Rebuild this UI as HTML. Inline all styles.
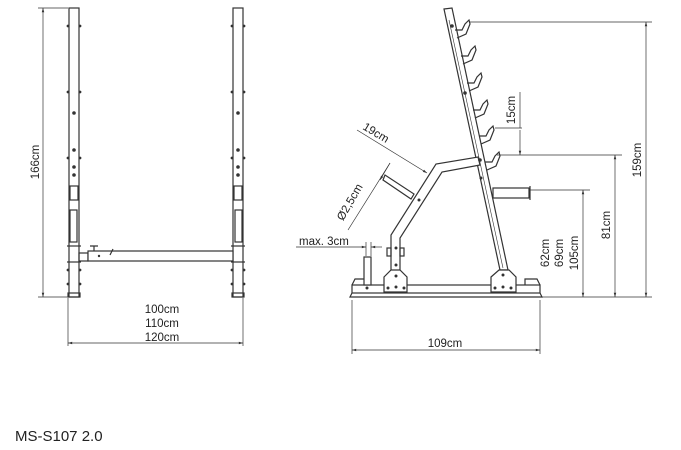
<!DOCTYPE html>
<html><head><meta charset="utf-8"><style>
html,body{margin:0;padding:0;background:#fff;}
svg{display:block;}
text{font-family:"Liberation Sans",sans-serif;fill:#222;}
</style></head><body>
<svg width="681" height="450" viewBox="0 0 681 450" xmlns="http://www.w3.org/2000/svg">
<defs>
<marker id="a" viewBox="0 0 10 10" refX="10" refY="5" markerWidth="8" markerHeight="6" orient="auto-start-reverse"><path d="M0,2 L10,5 L0,8 z" fill="#333"/></marker>
</defs>
<g stroke="#333" stroke-width="0.7" fill="none">
<line x1="43" y1="8" x2="43" y2="297" marker-start="url(#a)" marker-end="url(#a)"/>
<line x1="38" y1="8" x2="68" y2="8"/><line x1="38" y1="297" x2="68" y2="297"/>
<g stroke-width="1.2">
<rect x="69" y="8" width="10" height="289" fill="#fff"/>
<rect x="233" y="8" width="10" height="289" fill="#fff"/>
<rect x="70" y="186" width="8" height="14"/><rect x="234" y="186" width="8" height="14"/>
<rect x="70" y="210" width="7" height="32"/><rect x="235" y="210" width="7" height="32"/>
<rect x="79" y="253" width="9" height="8"/>
<rect x="88" y="251" width="145" height="10" fill="#fff"/>
<line x1="67" y1="246" x2="81" y2="246"/><line x1="231" y1="246" x2="245" y2="246"/>
<line x1="67" y1="262" x2="81" y2="262"/><line x1="231" y1="262" x2="245" y2="262"/>
<rect x="68" y="293" width="12" height="4"/><rect x="232" y="293" width="12" height="4"/>
<path d="M90,246 L98,246 M94,246 L94,251"/>
<line x1="110" y1="255" x2="113" y2="249"/>
</g>
<g fill="#333" stroke="none">
<circle cx="74" cy="113" r="1.8"/><circle cx="74" cy="150" r="1.8"/><circle cx="74" cy="167" r="1.8"/><circle cx="74" cy="175" r="1.8"/>
<circle cx="238" cy="113" r="1.8"/><circle cx="238" cy="150" r="1.8"/><circle cx="238" cy="167" r="1.8"/><circle cx="238" cy="175" r="1.8"/>
<circle cx="68" cy="26" r="1.4"/><circle cx="80" cy="26" r="1.4"/><circle cx="68" cy="92" r="1.4"/><circle cx="80" cy="92" r="1.4"/><circle cx="68" cy="158" r="1.4"/><circle cx="80" cy="158" r="1.4"/>
<circle cx="232" cy="26" r="1.4"/><circle cx="244" cy="26" r="1.4"/><circle cx="232" cy="92" r="1.4"/><circle cx="244" cy="92" r="1.4"/><circle cx="232" cy="158" r="1.4"/><circle cx="244" cy="158" r="1.4"/>
<circle cx="68" cy="270" r="1.4"/><circle cx="80" cy="270" r="1.4"/><circle cx="68" cy="284" r="1.4"/><circle cx="80" cy="284" r="1.4"/>
<circle cx="232" cy="270" r="1.4"/><circle cx="244" cy="270" r="1.4"/><circle cx="232" cy="284" r="1.4"/><circle cx="244" cy="284" r="1.4"/>
<circle cx="99" cy="256" r="1.2"/>
</g>
<line x1="68" y1="298" x2="68" y2="346"/><line x1="243" y1="298" x2="243" y2="346"/>
<line x1="68" y1="343" x2="243" y2="343" marker-start="url(#a)" marker-end="url(#a)"/>

<g stroke-width="1.2">
<path d="M444,9 L452,8 L508,270 L500,270 Z" fill="#fff"/>
<line x1="449" y1="20" x2="503" y2="268" stroke-width="0.6"/>
<path d="M455,30 L462,30 L465,24 L469,20 L470,24 L466,34 L457,38"/>
<path d="M461,56 L468,56 L471,50 L475,46 L476,50 L472,60 L463,64"/>
<path d="M467,83 L474,83 L477,77 L481,73 L482,77 L478,87 L469,91"/>
<path d="M473,110 L480,110 L483,104 L487,100 L488,104 L484,114 L475,118"/>
<path d="M479,136 L486,136 L489,130 L493,126 L494,130 L490,140 L481,144"/>
<path d="M485,162 L492,162 L495,156 L499,152 L500,156 L496,166 L487,170"/>
<path d="M391,286 L391,235 L436,164 L478,157 L480,165 L442,172 L400,238 L400,286" fill="#fff"/>
<path d="M383,180 L385,175 L414,194 L411,199 Z" fill="#fff"/>
<rect x="493" y="188" width="36" height="10" fill="#fff"/>
<line x1="530" y1="186" x2="530" y2="200"/>
<rect x="352" y="285" width="188" height="8" fill="#fff"/>
<path d="M352,293 L350,297 L542,297 L540,293"/>
<path d="M352,285 L355,279 L367,279 L367,285 M540,285 L537,279 L525,279 L525,285"/>
<rect x="364" y="257" width="7" height="28" fill="#fff"/>
<path d="M384,277 L391,270 L400,270 L407,277 L407,292 L384,292 Z" fill="#fff"/>
<path d="M491,277 L499,270 L509,270 L516,277 L516,292 L491,292 Z" fill="#fff"/>
<rect x="387" y="248" width="4" height="8"/><rect x="400" y="248" width="4" height="8"/>
</g>
<g fill="#333" stroke="none">
<circle cx="452" cy="26" r="1.8"/><circle cx="465" cy="93" r="1.8"/><circle cx="480" cy="160" r="1.8"/>
<circle cx="396" cy="248" r="1.5"/><circle cx="396" cy="265" r="1.5"/><circle cx="396" cy="276" r="1.5"/>
<circle cx="388" cy="288" r="1.5"/><circle cx="396" cy="287" r="1.5"/><circle cx="404" cy="288" r="1.5"/>
<circle cx="503" cy="275" r="1.5"/><circle cx="495" cy="288" r="1.5"/><circle cx="503" cy="287" r="1.5"/><circle cx="511" cy="288" r="1.5"/>
<circle cx="367" cy="288" r="1.5"/><circle cx="419" cy="200" r="1.5"/><circle cx="481" cy="178" r="1.5"/>
</g>
<line x1="470" y1="22" x2="652" y2="22"/>
<line x1="497" y1="155" x2="622" y2="155"/>
<line x1="530" y1="190" x2="590" y2="190"/>
<line x1="495" y1="128" x2="522" y2="128"/>
<line x1="540" y1="297" x2="652" y2="297"/>
<line x1="646" y1="22" x2="646" y2="297" marker-start="url(#a)" marker-end="url(#a)"/>
<line x1="615" y1="155" x2="615" y2="297" marker-start="url(#a)" marker-end="url(#a)"/>
<line x1="583" y1="190" x2="583" y2="297" marker-start="url(#a)" marker-end="url(#a)"/>
<line x1="520" y1="92" x2="520" y2="128"/>
<line x1="520" y1="130" x2="520" y2="155" marker-end="url(#a)"/>
<line x1="352" y1="300" x2="352" y2="354"/><line x1="540" y1="300" x2="540" y2="354"/>
<line x1="352" y1="350" x2="540" y2="350" marker-start="url(#a)" marker-end="url(#a)"/>
<line x1="357" y1="130" x2="427" y2="173" marker-end="url(#a)"/>
<line x1="390" y1="163" x2="348" y2="230"/>
<line x1="390" y1="163" x2="380" y2="180" marker-end="url(#a)"/>
<line x1="296" y1="247" x2="366" y2="247" marker-end="url(#a)"/>
<line x1="371" y1="247" x2="382" y2="247" marker-start="url(#a)"/>
<line x1="366" y1="242" x2="366" y2="256"/><line x1="371" y1="242" x2="371" y2="256"/>
</g>
<g font-size="11.5">
<text transform="translate(39,162) rotate(-90)" text-anchor="middle">166cm</text>
<text x="162" y="313" text-anchor="middle">100cm</text>
<text x="162" y="327" text-anchor="middle">110cm</text>
<text x="162" y="341" text-anchor="middle">120cm</text>
<text x="445" y="347" text-anchor="middle">109cm</text>
<text transform="translate(641,160) rotate(-90)" text-anchor="middle">159cm</text>
<text transform="translate(610,225) rotate(-90)" text-anchor="middle">81cm</text>
<text transform="translate(549,253) rotate(-90)" text-anchor="middle">62cm</text>
<text transform="translate(563,253) rotate(-90)" text-anchor="middle">69cm</text>
<text transform="translate(578,253) rotate(-90)" text-anchor="middle">105cm</text>
<text transform="translate(515,110) rotate(-90)" text-anchor="middle">15cm</text>
<text transform="translate(374,136) rotate(31)" text-anchor="middle">19cm</text>
<text transform="translate(353,204) rotate(-60)" text-anchor="middle">Ø2,5cm</text>
<text x="299" y="245">max. 3cm</text>
<text x="15" y="441" font-size="15">MS-S107 2.0</text>
</g>
</svg>
</body></html>
